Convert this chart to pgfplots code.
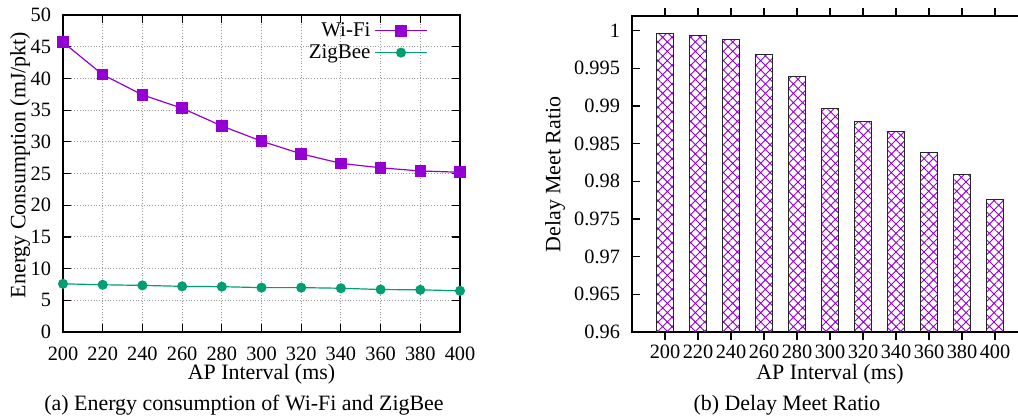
\documentclass[border=0pt]{standalone}
\usepackage{fontspec}
\setmainfont{Liberation Serif}
\usepackage{pgfplots}
\pgfplotsset{compat=1.18}
\usetikzlibrary{patterns.meta}
\definecolor{wifi}{HTML}{9400D3}
\definecolor{zig}{HTML}{009E73}
\begin{document}
\begin{tikzpicture}
\useasboundingbox (0,0) rectangle (509bp,210bp);
\begin{axis}[
  at={(31.5bp,44bp)}, anchor=south west,
  width=198.5bp, height=158.5bp, scale only axis,
  xmin=200, xmax=400, ymin=0, ymax=50,
  xtick={200,220,...,400}, ytick={0,5,...,50},
  tick align=inside, major tick length=4bp,
  axis line style={line width=0.9pt},
  every tick/.style={black, line width=0.6pt},
  grid=major, major grid style={densely dotted, gray!80, line width=0.5pt},
  tick label style={font=\fontsize{10.2}{12}\selectfont},
  xticklabel style={yshift=-4bp},
  yticklabel style={xshift=-2.5bp},
  /pgf/number format/assume math mode=true,
  xlabel={AP Interval (ms)}, ylabel={Energy Consumption (mJ/pkt)},
  label style={font=\fontsize{11}{13}\selectfont},
  xlabel style={at={(axis description cs:0.5,-0.132)}, anchor=center},
  ylabel style={at={(axis description cs:-0.108,0.527)}, anchor=center},
  legend cell align=right, legend plot pos=right,
  legend style={at={(1,1)}, anchor=north east, xshift=-13bp, yshift=0.5bp,
    draw=none, fill=none, font=\fontsize{10.5}{12}\selectfont, row sep=-1.5bp},
  legend image code/.code={\draw[mark repeat=2,mark phase=2,#1] plot coordinates {(0bp,0bp) (13bp,0bp) (26bp,0bp)};},
]
\addplot[wifi, line width=0.6pt, mark=square*, mark size=2.6bp, mark options={fill=wifi, draw=wifi}] coordinates {
(200,45.7) (220,40.6) (240,37.4) (260,35.3) (280,32.5) (300,30.1) (320,28.1) (340,26.6) (360,25.9) (380,25.4) (400,25.2)};
\addlegendentry{Wi-Fi}
\addplot[zig, line width=0.6pt, mark=*, mark size=2.2bp, mark options={fill=zig, draw=zig}] coordinates {
(200,7.6) (220,7.45) (240,7.35) (260,7.2) (280,7.15) (300,7.0) (320,7.0) (340,6.9) (360,6.7) (380,6.65) (400,6.5)};
\addlegendentry{ZigBee}
\end{axis}

\begin{axis}[
  at={(316bp,44bp)}, anchor=south west,
  width=198bp, height=158.2bp, scale only axis,
  xmin=180, xmax=420, ymin=0.96, ymax=1.002,
  xtick={200,220,...,400}, ytick={0.96,0.965,0.97,0.975,0.98,0.985,0.99,0.995,1},
  yticklabels={0.96,0.965,0.97,0.975,0.98,0.985,0.99,0.995,1},
  tick align=inside, major tick length=4bp,
  axis line style={line width=0.9pt},
  every tick/.style={black, line width=0.6pt},
  tick label style={font=\fontsize{10.2}{12}\selectfont},
  xticklabel style={yshift=1bp},
  yticklabel style={xshift=-2.5bp},
  /pgf/number format/assume math mode=true,
  xlabel={AP Interval (ms)}, ylabel={Delay Meet Ratio},
  label style={font=\fontsize{11}{13}\selectfont},
  xlabel style={at={(axis description cs:0.5,-0.132)}, anchor=center},
  ylabel style={at={(axis description cs:-0.194,0.498)}, anchor=center},
  ybar, bar width=10,
]
\addplot[draw=black!85, line width=0.5pt, pattern={Hatch[angle=45,distance=3.3bp,line width=0.45bp]}, pattern color=wifi] coordinates {
(200,0.99959) (220,0.99938) (240,0.99885) (260,0.99687) (280,0.9939) (300,0.98972) (320,0.9880) (340,0.98663) (360,0.98385) (380,0.9809) (400,0.97755)};
\end{axis}

\node[font=\fontsize{11}{13}\selectfont] at (122bp,7.5bp) {(a) Energy consumption of Wi-Fi and ZigBee};
\node[font=\fontsize{11}{13}\selectfont] at (393.5bp,7.5bp) {(b) Delay Meet Ratio};
\end{tikzpicture}
\end{document}
